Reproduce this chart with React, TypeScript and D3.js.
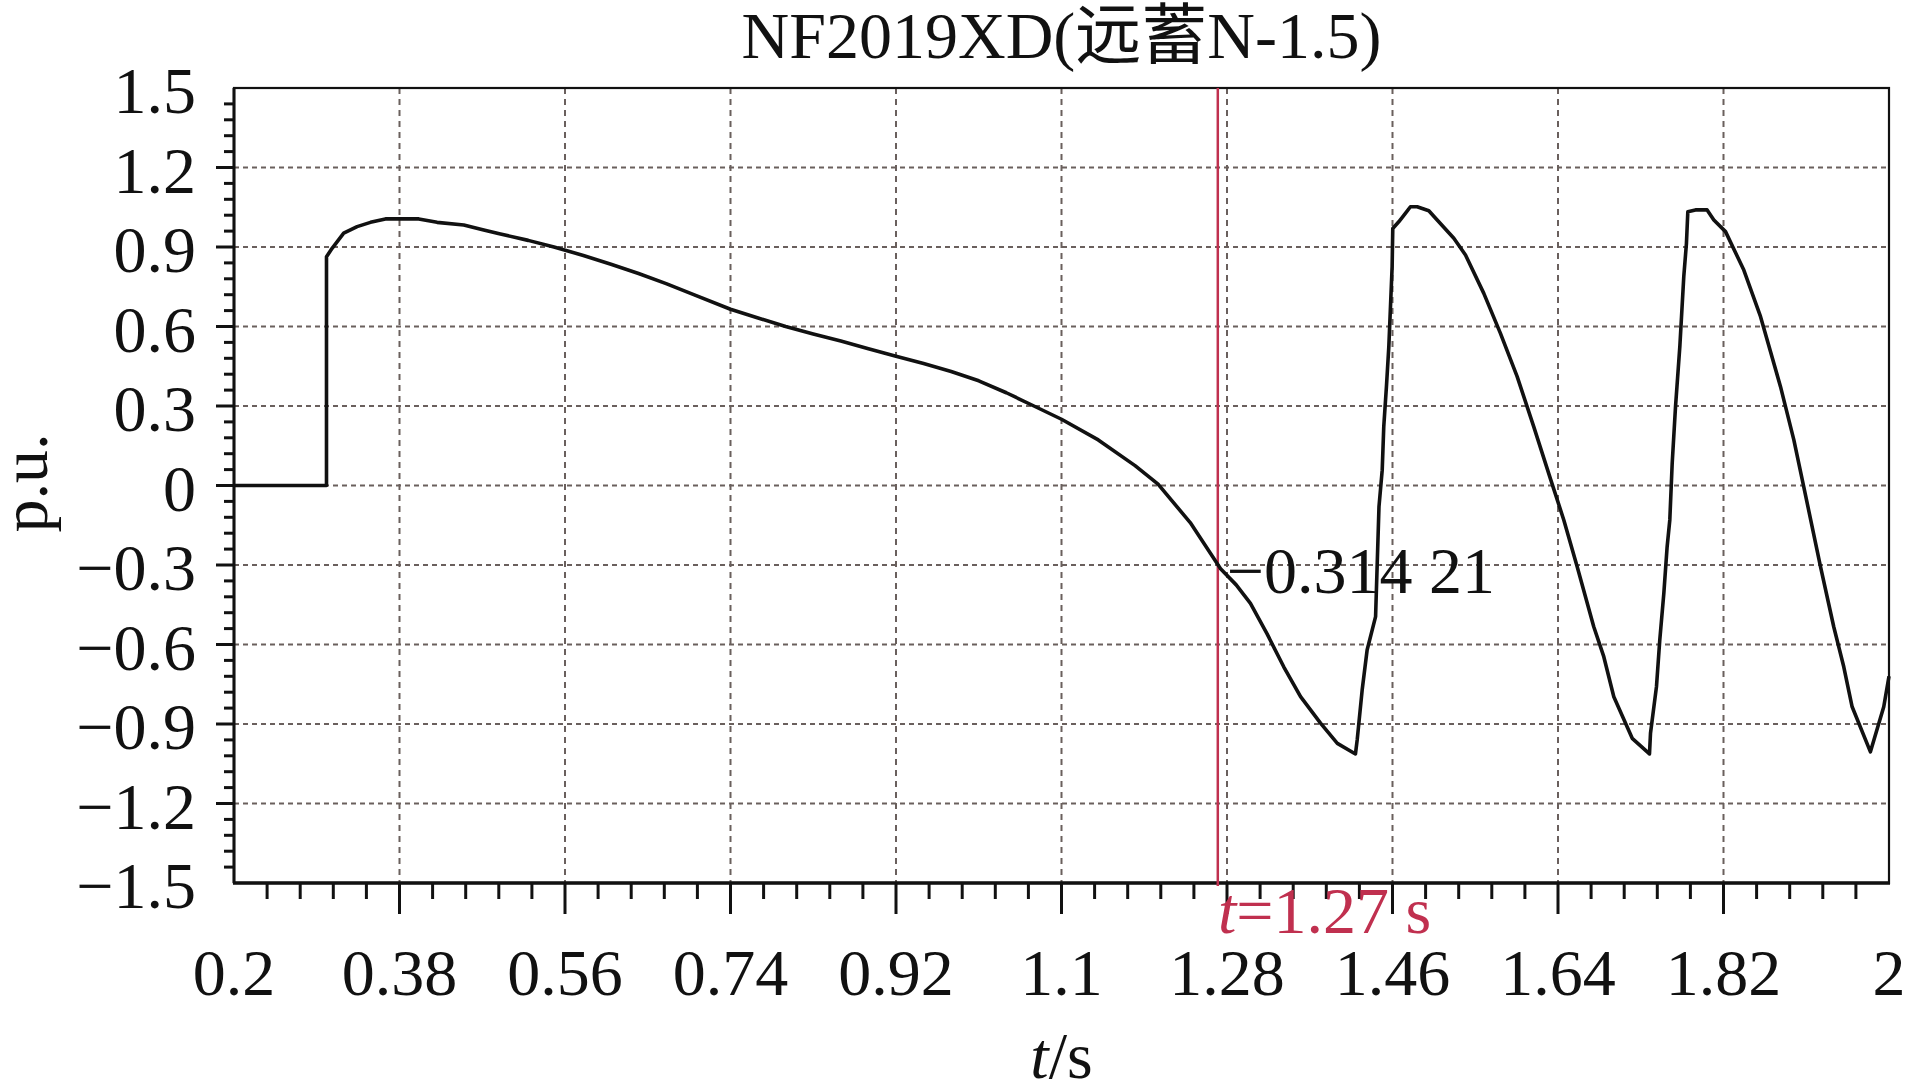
import { useEffect, useRef } from 'react'
import * as d3 from 'd3'

// time (s) and per-unit value
const timeS = [
  0.2, 0.3006, 0.3006, 0.3067, 0.3193, 0.3339, 0.3484, 0.3647, 0.4009, 0.4209, 0.4499, 0.4716, 0.4898,
  0.52, 0.548, 0.58, 0.61, 0.64, 0.67, 0.70, 0.74, 0.77, 0.80, 0.83, 0.86, 0.89, 0.92, 0.95, 0.98, 1.01,
  1.04, 1.07, 1.1, 1.14, 1.18,
  1.205, 1.24, 1.273, 1.29, 1.3055, 1.3236, 1.3417, 1.36, 1.3817, 1.40, 1.4197, 1.4216, 1.427, 1.4324, 1.4416, 1.4453,
  1.4488, 1.4505, 1.4534, 1.456, 1.4578, 1.4596, 1.4603, 1.4668, 1.474, 1.4795, 1.4868, 1.4995, 1.5086,
  1.5267, 1.5394, 1.5593, 1.5774, 1.5956, 1.6136, 1.6318, 1.6463, 1.6608, 1.6789, 1.6898, 1.7007, 1.7207,
  1.7395, 1.7406, 1.7471, 1.7507, 1.7551, 1.7587, 1.7616, 1.7642, 1.7678, 1.7725, 1.7768, 1.7797, 1.7812,
  1.7895, 1.8022, 1.8095, 1.8222, 1.8421, 1.8603, 1.882, 1.8965, 1.9073, 1.9255, 1.9399, 1.9508, 1.9599,
  1.9798, 1.9943, 2.0,
]
const valuePu = [
  0, 0, 0.863, 0.895, 0.952, 0.977, 0.993, 1.006, 1.006, 0.993, 0.983, 0.964, 0.949,
  0.925, 0.9, 0.868, 0.835, 0.8, 0.762, 0.72, 0.665, 0.632, 0.6, 0.572, 0.545, 0.516, 0.488, 0.46, 0.43, 0.395,
  0.35, 0.3, 0.25, 0.172, 0.075,
  0.005, -0.14, -0.314, -0.375, -0.445, -0.56, -0.684, -0.797, -0.897, -0.973, -1.013, -0.96, -0.772, -0.621, -0.495, -0.08,
  0.058, 0.222, 0.373, 0.524, 0.675, 0.826, 0.97, 0.995, 1.027, 1.052, 1.052, 1.037, 1.002,
  0.933, 0.87, 0.725, 0.574, 0.411, 0.222, 0.025, -0.13, -0.306, -0.533, -0.646, -0.797, -0.954,
  -1.013, -0.935, -0.759, -0.583, -0.407, -0.231, -0.13, 0.084, 0.297, 0.524, 0.788, 0.914, 1.033,
  1.04, 1.04, 1.002, 0.958, 0.813, 0.637, 0.373, 0.172, -0.005, -0.306, -0.533, -0.684, -0.835,
  -1.005, -0.835, -0.72,
]

const xTicks = [0.2, 0.38, 0.56, 0.74, 0.92, 1.1, 1.28, 1.46, 1.64, 1.82, 2]
const xTickLabels = ['0.2', '0.38', '0.56', '0.74', '0.92', '1.1', '1.28', '1.46', '1.64', '1.82', '2']
const yTicks = [1.5, 1.2, 0.9, 0.6, 0.3, 0, -0.3, -0.6, -0.9, -1.2, -1.5]
const yTickLabels = ['1.5', '1.2', '0.9', '0.6', '0.3', '0', '\u22120.3', '\u22120.6', '\u22120.9', '\u22121.2', '\u22121.5']

const cursorT = 1.27
const cursorValue = '\u22120.314 21'
const title = 'NF2019XD(远蓄N-1.5)'

const FONT = '"Liberation Serif", "Times New Roman", "Noto Sans CJK SC", serif'
const GRID = '#6a605d'
const RED = '#c0304f'

export default function App() {
  const svgRef = useRef<SVGSVGElement>(null)

  useEffect(() => {
    if (!svgRef.current) return
    const svg = d3.select(svgRef.current)
    svg.selectAll('*').remove()

    const left = 234, right = 1889, top = 88, bottom = 883

    const x = d3.scaleLinear().domain([0.2, 2]).range([left, right])
    const y = d3.scaleLinear().domain([-1.5, 1.5]).range([bottom, top])

    svg.append('rect').attr('width', 1908).attr('height', 1090).attr('fill', '#fff')

    // dashed grid
    const inner = xTicks.slice(1, -1)
    svg.append('g').selectAll('line').data(inner).enter().append('line')
      .attr('x1', d => x(d)).attr('x2', d => x(d)).attr('y1', top).attr('y2', bottom)
      .attr('stroke', GRID).attr('stroke-width', 2).attr('stroke-dasharray', '6 5')
    svg.append('g').selectAll('line').data(yTicks.slice(1, -1)).enter().append('line')
      .attr('x1', left).attr('x2', right).attr('y1', d => y(d)).attr('y2', d => y(d))
      .attr('stroke', GRID).attr('stroke-width', 2).attr('stroke-dasharray', '5 4')

    // minor ticks
    const xMinor = d3.range(0, 51).map(i => 0.2 + i * 0.036).filter((_, i) => i % 5 !== 0)
    svg.append('g').selectAll('line').data(xMinor).enter().append('line')
      .attr('x1', d => x(d)).attr('x2', d => x(d)).attr('y1', bottom).attr('y2', bottom + 16)
      .attr('stroke', '#111').attr('stroke-width', 3)
    svg.append('g').selectAll('line').data(inner).enter().append('line')
      .attr('x1', d => x(d)).attr('x2', d => x(d)).attr('y1', bottom).attr('y2', bottom + 31)
      .attr('stroke', '#111').attr('stroke-width', 3)

    const yMinor = d3.range(0, 51).map(i => -1.5 + i * 0.06).filter((_, i) => i % 5 !== 0)
    svg.append('g').selectAll('line').data(yMinor).enter().append('line')
      .attr('x1', left - 10).attr('x2', left).attr('y1', d => y(d)).attr('y2', d => y(d))
      .attr('stroke', '#111').attr('stroke-width', 3)
    svg.append('g').selectAll('line').data(yTicks.slice(1, -1)).enter().append('line')
      .attr('x1', left - 18).attr('x2', left).attr('y1', d => y(d)).attr('y2', d => y(d))
      .attr('stroke', '#111').attr('stroke-width', 3)

    // frame
    svg.append('rect').attr('x', left).attr('y', top).attr('width', right - left).attr('height', bottom - top)
      .attr('fill', 'none').attr('stroke', '#111').attr('stroke-width', 2.2)
    svg.append('line').attr('x1', left - 1).attr('x2', right + 1).attr('y1', bottom).attr('y2', bottom)
      .attr('stroke', '#111').attr('stroke-width', 3.5)
    svg.append('line').attr('x1', left).attr('x2', left).attr('y1', top).attr('y2', bottom)
      .attr('stroke', '#111').attr('stroke-width', 3)

    // tick labels
    svg.append('g').selectAll('text').data(xTicks).enter().append('text')
      .attr('x', d => x(d)).attr('y', 995).attr('text-anchor', 'middle')
      .style('font-family', FONT).style('font-size', '66px').style('fill', '#111')
      .text((_, i) => xTickLabels[i])
    svg.append('g').selectAll('text').data(yTicks).enter().append('text')
      .attr('x', 196).attr('y', d => y(d) + 25).attr('text-anchor', 'end')
      .style('font-family', FONT).style('font-size', '66px').style('fill', '#111')
      .text((_, i) => yTickLabels[i])

    // cursor line
    svg.append('line').attr('x1', x(cursorT)).attr('x2', x(cursorT)).attr('y1', top).attr('y2', bottom + 3)
      .attr('stroke', RED).attr('stroke-width', 2.5)

    // trace
    const pts: [number, number][] = timeS.map((t, i) => [t, valuePu[i]])
    const line = d3.line<[number, number]>().x(d => x(d[0])).y(d => y(d[1]))
    svg.append('path').datum(pts).attr('d', line)
      .attr('fill', 'none').attr('stroke', '#111').attr('stroke-width', 3.6).attr('stroke-linejoin', 'round')

    // cursor annotations
    svg.append('text').attr('x', x(cursorT) + 9).attr('y', 593)
      .style('font-family', FONT).style('font-size', '66px').style('fill', '#111').text(cursorValue)

    const tl = svg.append('text').attr('x', 1218).attr('y', 933)
      .style('font-family', FONT).style('font-size', '66px').style('fill', RED)
    tl.append('tspan').style('font-style', 'italic').text('t')
    tl.append('tspan').text('=1.27 s')

    // titles
    svg.append('text').attr('x', (left + right) / 2).attr('y', 58).attr('text-anchor', 'middle')
      .style('font-family', FONT).style('font-size', '66px').style('fill', '#111').text(title)

    const xl = svg.append('text').attr('x', (left + right) / 2).attr('y', 1078).attr('text-anchor', 'middle')
      .style('font-family', FONT).style('font-size', '66px').style('fill', '#111')
    xl.append('tspan').style('font-style', 'italic').text('t')
    xl.append('tspan').text('/s')

    svg.append('text').attr('transform', 'translate(47,483) rotate(-90)').attr('text-anchor', 'middle')
      .style('font-family', FONT).style('font-size', '66px').style('fill', '#111').text('p.u.')
  }, [])

  return (
    <svg ref={svgRef} width={1908} height={1090} style={{ position: 'absolute', left: 0, top: 0 }} />
  )
}
